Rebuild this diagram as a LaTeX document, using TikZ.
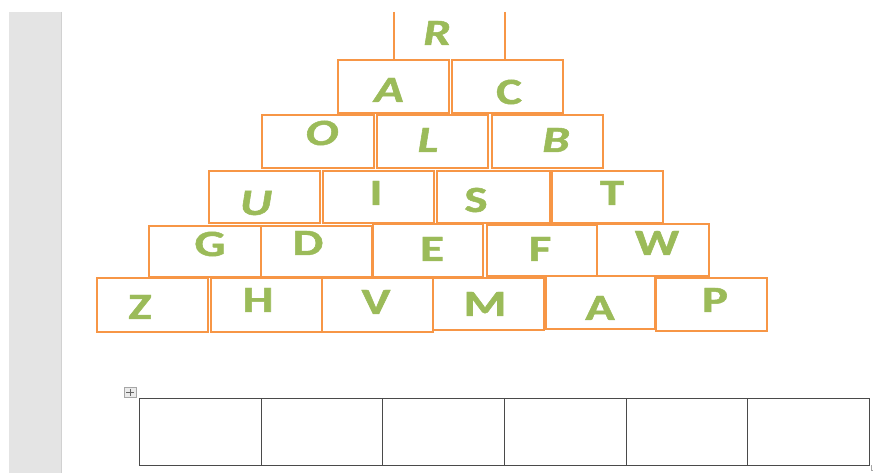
\documentclass[tikz,border=0pt]{standalone}
\usepackage{fontspec}
\setmainfont{Carlito}[BoldFeatures={FakeBold=1.2},BoldItalicFeatures={FakeBold=1.2}]
\definecolor{brickorange}{HTML}{F79646}
\definecolor{lettergreen}{HTML}{9BBB59}
\definecolor{sidegray}{HTML}{E4E4E4}
\definecolor{tablegray}{HTML}{4A4A4A}
\newcommand\widetext[1]{\scalebox{1.32}[1]{#1}}
\tikzset{
  brick/.style={draw=brickorange, line width=2.4pt, line join=miter},
  letter/.style={text=lettergreen, font=\fontsize{37}{40}\selectfont\bfseries, inner sep=0pt, anchor=center},
  iletter/.style={letter, font=\fontsize{37}{40}\selectfont\bfseries\itshape},
  cell/.style={draw=tablegray, line width=1pt}
}
\begin{document}
\begin{tikzpicture}[x=1pt,y=-1pt]
\useasboundingbox (0,0) rectangle (873,473);
\fill[white] (0,0) rectangle (873,473);
% side bar
\fill[sidegray] (9,12) rectangle (61,473);
\draw[line width=1pt, draw=black!18] (61,12) -- (61,473);

% top R (open top)
\draw[brick] (394,12) -- (394,60);
\draw[brick] (505,12) -- (505,60);
\node[iletter] (R) at (437,33) {\widetext{R}};

% row 2
\draw[brick] (338,60) rectangle (449,113);
\draw[brick] (452,60) rectangle (563,113);
\node[iletter] (A1) at (389,90) {\widetext{A}};
\node[letter] (C) at (509,92) {\widetext{C}};

% row 3
\draw[brick] (262,115) rectangle (374,168);
\draw[brick] (377,115) rectangle (488,168);
\draw[brick] (492,115) rectangle (603,168);
\node[iletter] (O) at (322,133) {\widetext{O}};
\node[iletter] (L) at (428,140) {\widetext{L}};
\node[iletter] (B) at (556,140) {\widetext{B}};

% row 4
\draw[brick] (209,171) rectangle (320,223);
\draw[brick] (323,171) rectangle (434,223);
\draw[brick] (437,171) rectangle (550,223);
\draw[brick] (552,171) rectangle (663,223);
\node[iletter] (U) at (256,203) {\widetext{U}};
\node[letter] (I) at (376,193) {\widetext{I}};
\node[letter] (S) at (476,200) {\widetext{S}};
\node[letter] (T) at (612,193) {\widetext{T}};

% row 5
\draw[brick] (149,226) rectangle (261,277);
\draw[brick] (261,226) rectangle (372,277);
\draw[brick] (373,224) rectangle (483,277);
\draw[brick] (487,225) rectangle (597,276);
\draw[brick] (597,224) rectangle (709,276);
\node[letter] (G) at (210,244) {\widetext{G}};
\node[letter] (D) at (308,243) {\widetext{D}};
\node[letter] (E) at (432,249) {\widetext{E}};
\node[letter] (F) at (540,249) {\widetext{F}};
\node[letter] (W) at (657,243) {\widetext{W}};

% row 6
\draw[brick] (97,278) rectangle (208,332);
\draw[brick] (211,278) rectangle (322,332);
\draw[brick] (322,278) rectangle (433,332);
\draw[brick] (433,278) rectangle (544,330);
\draw[brick] (546,276) rectangle (655,329);
\draw[brick] (656,278) rectangle (767,331);
\node[letter] (Z) at (140,307) {\widetext{Z}};
\node[letter] (H) at (258,300) {\widetext{H}};
\node[letter] (V) at (376,302) {\widetext{V}};
\node[letter] (M) at (485,304) {\widetext{M}};
\node[letter] (A2) at (600,308) {\widetext{A}};
\node[letter] (P) at (715,300) {\widetext{P}};

% table handle
\draw[draw=black!35, fill=black!8, line width=0.6pt] (124,387) rectangle (136,397);
\draw[black!60, line width=0.7pt] (126,392) -- (134,392) (130,388.5) -- (130,395.5);

% answer table
\draw[cell] (139,398) rectangle (869,465);
\foreach \xx in {261,382,504,626,747} \draw[cell] (\xx,398) -- (\xx,465);
\draw[black!35, line width=0.6pt] (871,465) -- (871,470) -- (873,470);
\end{tikzpicture}
\end{document}
